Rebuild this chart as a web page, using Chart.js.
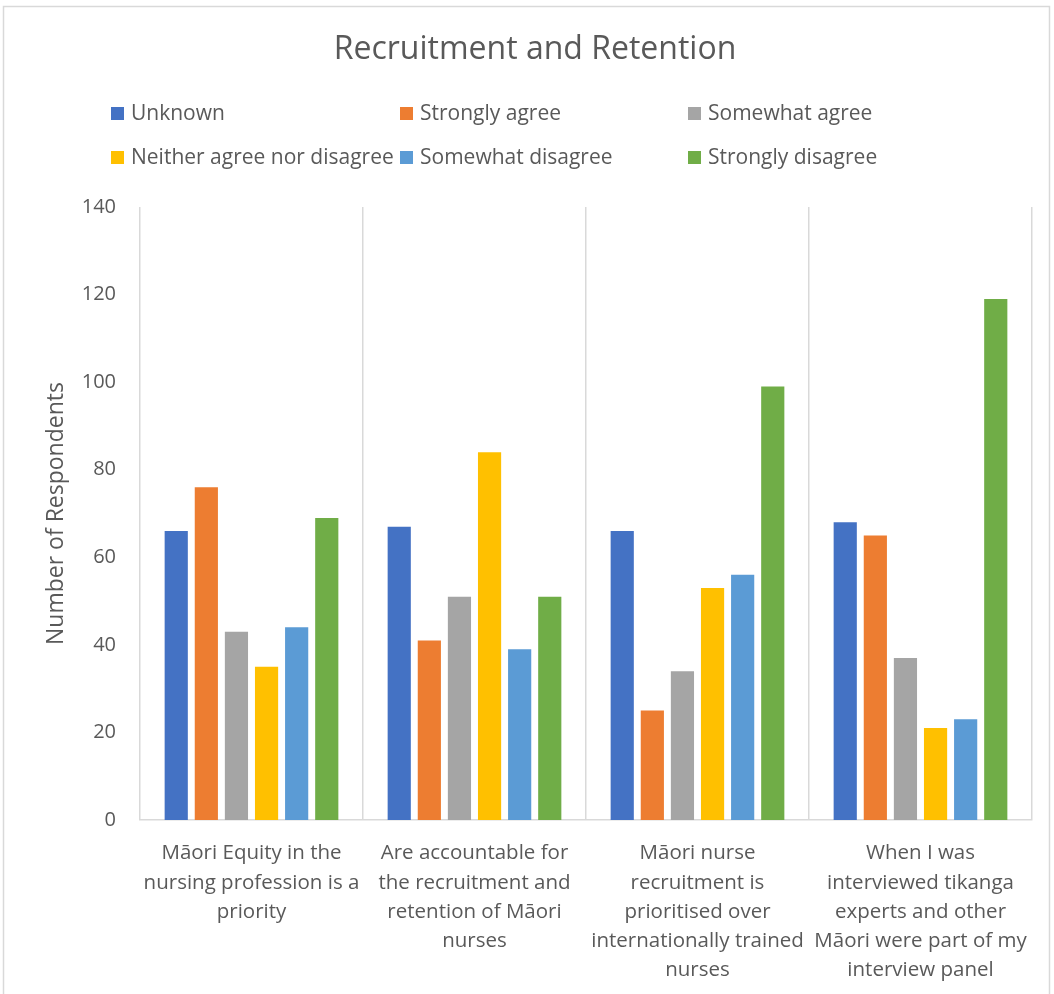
<!DOCTYPE html>
<html>
<head>
<meta charset="utf-8">
<script src="https://cdn.jsdelivr.net/npm/chart.js@4.4.1/dist/chart.umd.min.js"></script>
<style>
  body { margin: 0; background: #ffffff; }
  #wrap { position: relative; width: 1054px; height: 994px; }
</style>
</head>
<body>
<div id="wrap"><canvas id="myChart" width="1054" height="994"></canvas></div>
<script>
// categories (x axis, wrapped the way the picture wraps them)
var categories = [
    ["Māori Equity in the", "nursing profession is a", "priority"],
    ["Are accountable for", "the recruitment and", "retention of Māori", "nurses"],
    ["Māori nurse", "recruitment is", "prioritised over", "internationally trained", "nurses"],
    ["When I was", "interviewed tikanga", "experts and other", "Māori were part of my", "interview panel"]
];

var series_names = ["Unknown", "Strongly agree", "Somewhat agree", "Neither agree nor disagree", "Somewhat disagree", "Strongly disagree"];
var series_colors = ["#4472C4", "#ED7D31", "#A5A5A5", "#FFC000", "#5B9BD5", "#70AD47"];

var unknown = [66, 67, 66, 68];
var strongly_agree = [76, 41, 25, 65];
var somewhat_agree = [43, 51, 34, 37];
var neither = [35, 84, 53, 21];
var somewhat_disagree = [44, 39, 56, 23];
var strongly_disagree = [69, 51, 99, 119];

var y_ticks = [0, 20, 40, 60, 80, 100, 120, 140];

var chart_title = "Recruitment and Retention";

var FONT = "'Open Sans', 'Noto Sans', sans-serif";
var TEXT_COLOR = "#595959";

var all_values = [unknown, strongly_agree, somewhat_agree, neither, somewhat_disagree, strongly_disagree];
var datasets = [];
for(let i=0; i<series_names.length; i++){
    datasets.push({
        label: series_names[i],
        data: all_values[i],
        backgroundColor: series_colors[i],
        borderWidth: 0,
        barPercentage: 0.77,
        categoryPercentage: 0.81
    });
}

// title + legend in a fixed 3 column grid like the original
var headerAndLegend = {
    id: "headerAndLegend",
    afterDraw: function(chart){
        var ctx = chart.ctx;
        var cols = [111, 400, 688];
        var rows = [114, 158];
        ctx.save();

        ctx.font = "32px " + FONT;
        ctx.fillStyle = TEXT_COLOR;
        ctx.textAlign = "center";
        ctx.textBaseline = "middle";
        ctx.fillText(chart_title, 535, 50);

        ctx.font = "21px " + FONT;
        ctx.textAlign = "left";
        chart.data.datasets.forEach(function(ds, i){
            var x = cols[i % 3];
            var y = rows[Math.floor(i / 3)];
            ctx.fillStyle = ds.backgroundColor;
            ctx.fillRect(x, y - 7, 13, 13);
            ctx.fillStyle = TEXT_COLOR;
            ctx.fillText(ds.label, x + 20, y);
        });

        // outer chart border
        ctx.strokeStyle = "#d9d9d9";
        ctx.lineWidth = 1.5;
        ctx.strokeRect(3.5, 6.5, 1046, 1000);
        ctx.restore();
    }
};

var graph = new Chart("myChart", {
    type: "bar",
    data: {
        labels: categories,
        datasets: datasets
    },
    plugins: [headerAndLegend],
    options: {
        responsive: false,
        animation: false,
        layout: {padding: {top: 207, left: 0, right: 22, bottom: 0}},
        plugins: {
            legend: {display: false},
            tooltip: {enabled: false},
            title: {display: false}
        },
        scales: {
            x: {
                grid: {display: true, color: "#d9d9d9", lineWidth: 1.5, offset: true, drawTicks: false},
                border: {display: true, color: "#d9d9d9", width: 1.5},
                ticks: {
                    color: TEXT_COLOR,
                    font: {family: FONT, size: 20.5, lineHeight: 1.42},
                    padding: 19,
                    autoSkip: false,
                    maxRotation: 0
                },
                afterFit: function(scale){ scale.height = 174; }
            },
            y: {
                min: 0,
                max: 140,
                grid: {display: false, drawTicks: false},
                border: {display: false},
                afterBuildTicks: function(scale){
                    scale.ticks = y_ticks.map(function(v){ return {value: v}; });
                },
                ticks: {
                    color: TEXT_COLOR,
                    font: {family: FONT, size: 20},
                    padding: 24
                },
                title: {
                    display: true,
                    text: "Number of Respondents",
                    color: TEXT_COLOR,
                    font: {family: FONT, size: 23, lineHeight: 1.2},
                    padding: {top: 43}
                },
                afterFit: function(scale){ scale.width = 140; }
            }
        }
    }
});
</script>
</body>
</html>
